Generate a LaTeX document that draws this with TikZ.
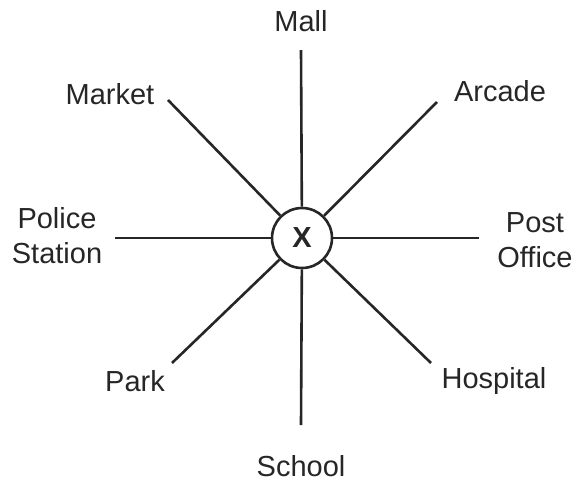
\documentclass[tikz,border=0pt]{standalone}
\usepackage{fontspec}
\setmainfont{Liberation Sans}
\begin{document}
\begin{tikzpicture}[x=1pt,y=-1pt,
  spoke/.style={line width=2.6pt, draw=black!85},
  lbl/.style={font=\fontsize{29}{35}\selectfont, align=center, inner sep=0pt, text=black!85}]
\useasboundingbox (0,0) rectangle (576,483);
\node[circle, draw=black!85, line width=2.6pt, minimum size=60pt, inner sep=0pt,
      font=\fontsize{29}{32}\selectfont\bfseries, text=black!85] (x) at (302,238) {X};
\coordinate (eN) at (301,50);
\coordinate (eS) at (301,425);
\coordinate (eW) at (115,238);
\coordinate (eE) at (479,238);
\coordinate (eNW) at (168,100);
\coordinate (eNE) at (437,102);
\coordinate (eSW) at (172,363);
\coordinate (eSE) at (431,363);
\draw[spoke] (x) -- (eN);
\draw[spoke] (x) -- (eS);
\draw[spoke] (x) -- (eW);
\draw[spoke] (x) -- (eE);
\draw[spoke] (x) -- (eNW);
\draw[spoke] (x) -- (eNE);
\draw[spoke] (x) -- (eSW);
\draw[spoke] (x) -- (eSE);
\node[lbl] (mall) at (301,21) {Mall};
\node[lbl] (market) at (110,94) {Market};
\node[lbl] (arcade) at (500,91) {Arcade};
\node[lbl] (police) at (57,236) {Police\\Station};
\node[lbl] (post) at (535,240) {Post\\Office};
\node[lbl] (park) at (135,381) {Park};
\node[lbl] (hospital) at (494,381) {Hospital};
\node[lbl] (school) at (301,466) {School};
\end{tikzpicture}
\end{document}
